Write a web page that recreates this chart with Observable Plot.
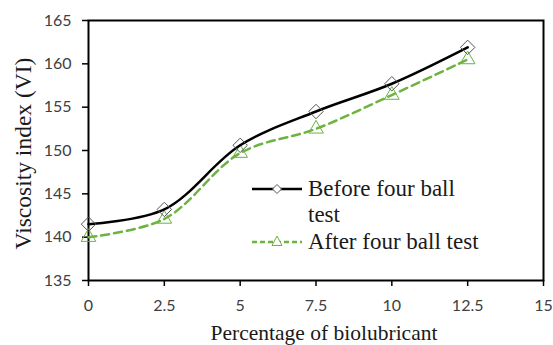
<!DOCTYPE html>
<html><head><meta charset="utf-8">
<script src="https://cdn.jsdelivr.net/npm/d3@7"></script>
<script src="https://cdn.jsdelivr.net/npm/@observablehq/plot@0.6"></script>
<style>
body{margin:0;background:#fff;}
#wrap{position:relative;width:553px;height:345px;overflow:hidden;}
#legend{position:absolute;left:0;top:0;}
</style></head>
<body><div id="wrap"><svg id="legend" width="553" height="345"></svg></div>
<script>
const pct = [0, 2.5, 5, 7.5, 10, 12.5];
const before = [141.5, 143.2, 150.6, 154.5, 157.7, 161.9];
const after = [140.0, 142.1, 149.7, 152.5, 156.4, 160.5];
const xTicks = [0, 2.5, 5, 7.5, 10, 12.5, 15];
const yTicks = [135, 140, 145, 150, 155, 160, 165];
const xTitle = "Percentage of biolubricant";
const yTitle = "Viscosity index (VI)";
const legendLines = [["Before four ball", "test"], ["After four ball test"]];

const dB = pct.map((x, i) => ({x, y: before[i]}));
const dA = pct.map((x, i) => ({x, y: after[i]}));
const serif = "Liberation Serif, Times New Roman, serif";

const chart = Plot.plot({
  width: 553, height: 345,
  marginLeft: 88, marginRight: 10, marginTop: 20, marginBottom: 65,
  style: {fontFamily: "Lato, sans-serif", fontSize: "16px", color: "#404040", background: "#fff"},
  x: {domain: [0, 15]},
  y: {domain: [135, 165]},
  marks: [
    Plot.frame({stroke: "#000", strokeWidth: 2}),
    Plot.axisX({ticks: xTicks, tickSize: 6, tickPadding: 13, tickFormat: d => String(d), stroke: "#000", strokeWidth: 1.5, label: null}),
    Plot.axisY({ticks: yTicks, tickSize: 6, tickPadding: 11, stroke: "#000", strokeWidth: 1.5, label: null}),
    Plot.line(dA, {x: "x", y: "y", curve: "catmull-rom", stroke: "#6cb33f", strokeWidth: 2.5, strokeDasharray: "8,5"}),
    Plot.dot(dA, {x: "x", y: "y", symbol: "triangle2", r: 7, stroke: "#6cb33f", fill: "none", strokeWidth: 1}),
    Plot.line(dB, {x: "x", y: "y", curve: "catmull-rom", stroke: "#000", strokeWidth: 2.5}),
    Plot.dot(dB, {x: "x", y: "y", symbol: "diamond2", r: 6.5, stroke: "#555", fill: "none", strokeWidth: 1}),
    Plot.text([xTitle], {frameAnchor: "bottom", text: d => d, textAnchor: "middle", dx: 8, dy: 59, fontFamily: serif, fontSize: 21.5, fill: "#1a1a1a", lineAnchor: "bottom"}),
    Plot.text([yTitle], {frameAnchor: "left", text: d => d, textAnchor: "middle", rotate: -90, dx: -65, dy: 3, fontFamily: serif, fontSize: 23.5, fill: "#1a1a1a"})
  ]
});
const wrap = document.getElementById("wrap");
wrap.prepend(chart);

// legend overlay
const lg = d3.select("#legend");
lg.append("line").attr("x1", 252).attr("x2", 302).attr("y1", 189).attr("y2", 189).attr("stroke", "#000").attr("stroke-width", 2.5);
lg.append("path").attr("d", "M277,184.5 L281.5,189 L277,193.5 L272.5,189Z").attr("fill", "#fff").attr("stroke", "#555").attr("stroke-width", 1);
legendLines[0].forEach((t, i) => lg.append("text").attr("x", 308).attr("y", 196 + i * 26).attr("font-family", serif).attr("font-size", 23).attr("fill", "#1a1a1a").text(t));
lg.append("line").attr("x1", 252).attr("x2", 302).attr("y1", 242).attr("y2", 242).attr("stroke", "#6cb33f").attr("stroke-width", 2.5).attr("stroke-dasharray", "5,3");
lg.append("path").attr("d", "M277,236 L282,245.5 L272,245.5Z").attr("fill", "#fff").attr("stroke", "#6cb33f").attr("stroke-width", 1);
lg.append("text").attr("x", 308).attr("y", 249).attr("font-family", serif).attr("font-size", 23).attr("fill", "#1a1a1a").text(legendLines[1][0]);
</script></body></html>
